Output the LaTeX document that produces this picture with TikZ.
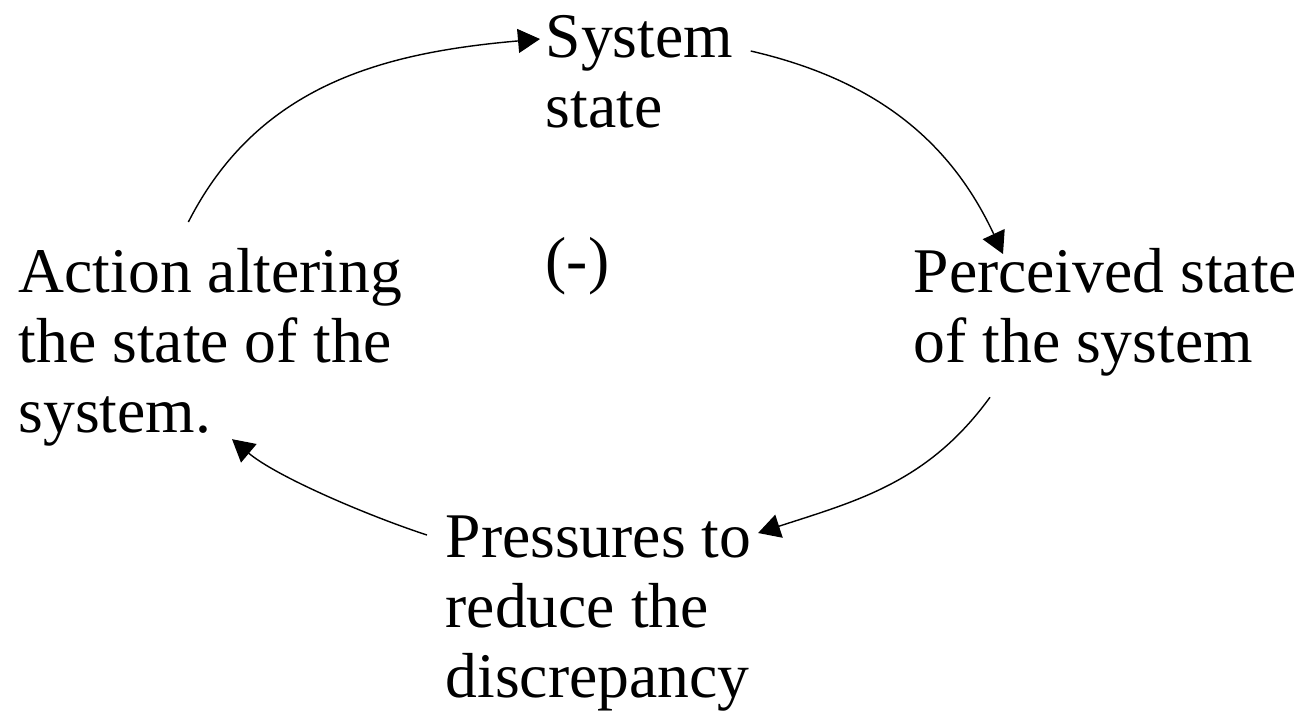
\documentclass[tikz,border=0pt]{standalone}
\usepackage{fontspec}
\setmainfont{Liberation Serif}
\usetikzlibrary{arrows.meta}

\begin{document}
\begin{tikzpicture}
        [font=\fontsize{18.1}{19.9}\selectfont, >={Triangle[length=2.2mm,width=2.4mm]}]

        \useasboundingbox (0, 0) rectangle (13.01, -7.15);

        \node[anchor=north west, align=left, inner sep=0pt] (sys) at (5.45, -0.15) {System\\state};
        \node[anchor=north west, align=left, inner sep=0pt] (neg) at (5.45, -2.37) {(-)};
        \node[anchor=north west, align=left, inner sep=0pt] (act) at (0.18, -2.48) {Action altering\\the state of the\\system.};
        \node[anchor=north west, align=left, inner sep=0pt] (perc) at (9.13, -2.48) {Perceived state\\of the system};
        \node[anchor=north west, align=left, inner sep=0pt] (pres) at (4.45, -5.15) {Pressures to\\reduce the\\discrepancy};

        \draw[->] ([shift={(-0.22, 0.26)}]act.north) to[out=63, in=185] ([shift={(-0.05, -0.24)}]sys.north west);
        \draw[->] ([shift={(0.17, -0.36)}]sys.north east) to[out=-13, in=115] ([shift={(0.9, -0.06)}]perc.north west);
        \draw[->] ([shift={(0.77, -0.2)}]perc.south west) to[out=-126, in=18] ([shift={(0.06, -0.18)}]pres.north east);
        \draw[->] ([shift={(-0.18, -0.2)}]pres.north west) to[out=162, in=-40, looseness=0.7] ([shift={(2.14, 0.08)}]act.south west);
    \end{tikzpicture}
\end{document}
